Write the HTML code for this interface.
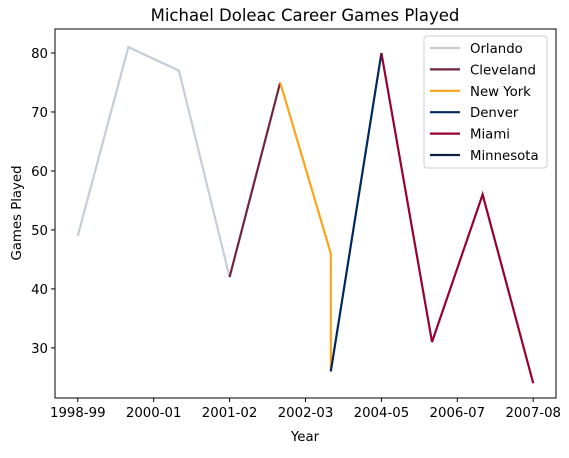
<!DOCTYPE html>
<html><head><meta charset="utf-8"><style>
body{margin:0;background:#fff;font-family:"Liberation Sans","DejaVu Sans",sans-serif}
svg text{font-family:"DejaVu Sans","Liberation Sans",sans-serif;fill:#000}
</style></head><body>
<svg id="chart" width="569" height="453" xmlns="http://www.w3.org/2000/svg">
<rect x="0" y="0" width="569" height="453" fill="#fff"/>
<g id="plot"></g>
<rect x="55" y="29" width="501" height="369" fill="none" stroke="#000" stroke-width="1"/>
<text x="305" y="21" font-size="16.5" text-anchor="middle">Michael Doleac Career Games Played</text>
<text x="305" y="441" font-size="13.3" text-anchor="middle">Year</text>
<text x="21" y="213" font-size="13.3" text-anchor="middle" transform="rotate(-90 21 213)">Games Played</text>
<g id="legend"></g>
</svg>
<script>
const seriesNames=["Orlando","Cleveland","New York","Denver","Miami","Minnesota"];
const seriesColors=["#C4CED4","#6F263D","#FFA319","#00285E","#98002E","#0C2340"];
const orlandoX=[0,1,2,3], orlandoY=[49,81,77,42];
const clevelandX=[3,4], clevelandY=[42,75];
const newYorkX=[4,5,5], newYorkY=[75,46,26];
const denverX=[5,6], denverY=[26,80];
const miamiX=[6,7,8,9], miamiY=[80,31,56,24];
const minnesotaX=[], minnesotaY=[];
const xTickPos=[0,1.5,3,4.5,6,7.5,9];
const xTickLabels=["1998-99","2000-01","2001-02","2002-03","2004-05","2006-07","2007-08"];
const yTicks=[30,40,50,60,70,80];
const NS="http://www.w3.org/2000/svg";
const L=55,R=556,T=29,B=398;
const xMin=-0.45,xMax=9.45,yMin=21.5,yMax=84.07;
const xs=v=>L+(v-xMin)/(xMax-xMin)*(R-L);
const ys=v=>B-(v-yMin)/(yMax-yMin)*(B-T);
const plot=document.getElementById('plot');
function mk(tag,attrs,parent){const e=document.createElementNS(NS,tag);for(const k in attrs)e.setAttribute(k,attrs[k]);parent.appendChild(e);return e;}
xTickPos.forEach((p,i)=>{
  const t=mk('line',{x1:xs(p),x2:xs(p),y1:B,y2:B+4,stroke:'#000'},plot);
  
  
  const tx=mk('text',{x:xs(p),y:B+19,'font-size':13.3,'text-anchor':'middle'},plot);
  tx.textContent=xTickLabels[i];
  
  
});
yTicks.forEach(v=>{
  const t=mk('line',{x1:L-4,x2:L,y1:ys(v),y2:ys(v),stroke:'#000'},plot);
  
  
  const tx=mk('text',{x:L-7,y:ys(v)+5,'font-size':13.3,'text-anchor':'end'},plot);
  tx.textContent=v;
  
  
});
const data=[[orlandoX,orlandoY],[clevelandX,clevelandY],[newYorkX,newYorkY],[denverX,denverY],[miamiX,miamiY],[minnesotaX,minnesotaY]];
data.forEach((d,i)=>{
  if(!d[0].length)return;
  const pts=d[0].map((x,j)=>xs(x)+','+ys(d[1][j])).join(' ');
  const pl=mk('polyline',{points:pts,fill:'none',stroke:seriesColors[i],'stroke-width':2.2},plot);
  
  
});
const lg=document.getElementById('legend');
const box=mk('rect',{x:424,y:36,width:123,height:132,rx:3,fill:'#fff',stroke:'#ccc','fill-opacity':0.8},lg);


seriesNames.forEach((n,i)=>{
  const y=48+i*21.4;
  const ln=mk('line',{x1:430,x2:460,y1:y,y2:y,stroke:seriesColors[i],'stroke-width':2.2},lg);
  
  
  const t=mk('text',{x:470,y:y+5,'font-size':13.3},lg);
  t.textContent=n;
  
  
});
</script>
</body></html>
